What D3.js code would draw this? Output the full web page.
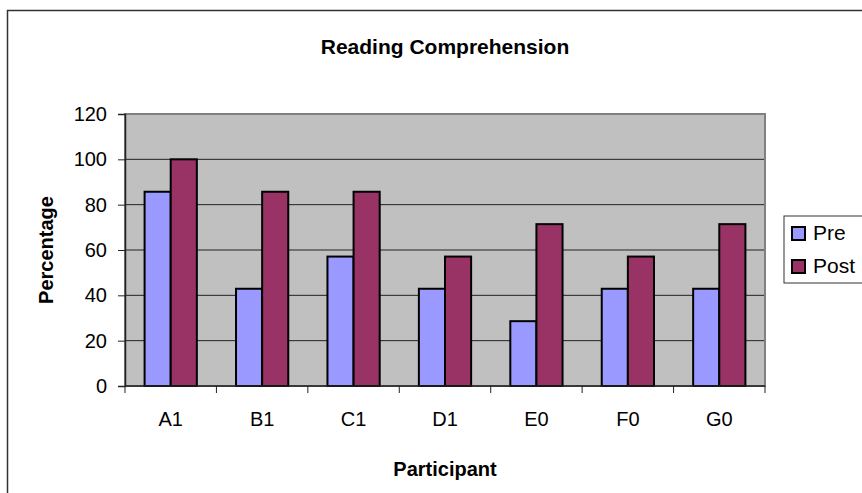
<!DOCTYPE html>
<html>
<head>
<meta charset="utf-8">
<script src="https://cdn.jsdelivr.net/npm/d3@7"></script>
<style>
  body { margin: 0; background: #fff; }
  svg { display: block; font-family: "Liberation Sans", Arial, sans-serif; }
</style>
</head>
<body>
<svg id="chart" width="862" height="493"></svg>
<script>
// Values
const participants = ["A1", "B1", "C1", "D1", "E0", "F0", "G0"];
const preScores = [85.7, 42.9, 57.1, 42.9, 28.6, 42.9, 42.9];
const postScores = [100, 85.7, 85.7, 57.1, 71.4, 57.1, 71.4];
const seriesNames = ["Pre", "Post"];
const yTicks = [0, 20, 40, 60, 80, 100, 120];

const colors = { Pre: "#9999ff", Post: "#993366" };

// Build rows for the grouped bars
const rows = participants.map((p, i) => ({ name: p, Pre: preScores[i], Post: postScores[i] }));

const config = {
  margin: { top: 114, left: 125, right: 97, bottom: 107 },
  containerWidth: 862,
  containerHeight: 493
};

const svg = d3.select("#chart");
const width = config.containerWidth - config.margin.left - config.margin.right;
const height = config.containerHeight - config.margin.top - config.margin.bottom;

// Outer chart area border (right and bottom edges fall off the picture)
svg.append("rect")
    .attr("x", 7.5)
    .attr("y", 10.5)
    .attr("width", 900)
    .attr("height", 600)
    .attr("fill", "#fff")
    .attr("stroke", "#333")
    .attr("stroke-width", 1.5);

const chart = svg.append("g")
    .attr("transform", `translate(${config.margin.left},${config.margin.top})`);

// Scales
const xScale = d3.scaleBand()
    .domain(participants)
    .range([0, width]);

// Excel style gap width of 150%
const barW = xScale.bandwidth() / 3.5;
const xInner = d3.scaleBand()
    .domain(seriesNames)
    .range([barW * 0.75, barW * 2.75]);

const yScale = d3.scaleLinear()
    .domain([0, 120])
    .range([height, 0]);

// Plot area background
chart.append("rect")
    .attr("width", width)
    .attr("height", height)
    .attr("fill", "#c0c0c0");

// Gridlines
chart.append("g")
    .selectAll("line")
    .data(yTicks.filter(d => d > 0 && d < 120))
  .join("line")
    .attr("x1", 0)
    .attr("x2", width)
    .attr("y1", d => yScale(d))
    .attr("y2", d => yScale(d))
    .attr("stroke", "#222")
    .attr("stroke-width", 1);

// Plot area border
chart.append("rect")
    .attr("width", width)
    .attr("height", height)
    .attr("fill", "none")
    .attr("stroke", "#808080")
    .attr("stroke-width", 2);

// Bars
chart.append("g")
    .selectAll("g")
    .data(rows)
  .join("g")
    .attr("transform", d => `translate(${xScale(d.name)},0)`)
    .selectAll("rect")
    .data(d => seriesNames.map(s => ({ key: s, value: d[s] })))
  .join("rect")
    .attr("x", d => xInner(d.key))
    .attr("y", d => yScale(d.value))
    .attr("width", xInner.bandwidth())
    .attr("height", d => height - yScale(d.value))
    .attr("fill", d => colors[d.key])
    .attr("stroke", "#000")
    .attr("stroke-width", 2);

// Y axis
const yAxisG = chart.append("g")
    .call(d3.axisLeft(yScale).tickValues(yTicks).tickSize(7).tickPadding(11));
yAxisG.select(".domain").attr("stroke", "#222").attr("stroke-width", 1.5);
yAxisG.selectAll(".tick line").attr("stroke", "#222");
yAxisG.selectAll("text")
    .attr("font-size", 20)
    .attr("fill", "#000")
    .attr("font-family", "Liberation Sans, Arial, sans-serif");

// X axis: ticks between categories
const xAxisG = chart.append("g")
    .attr("transform", `translate(0,${height})`);
xAxisG.append("line")
    .attr("x1", 0)
    .attr("x2", width)
    .attr("stroke", "#222")
    .attr("stroke-width", 1.5);
xAxisG.selectAll(".sep")
    .data(participants.concat(["end"]))
  .join("line")
    .attr("class", "sep")
    .attr("x1", (d, i) => i * xScale.step())
    .attr("x2", (d, i) => i * xScale.step())
    .attr("y1", 0)
    .attr("y2", 7)
    .attr("stroke", "#222");
xAxisG.selectAll(".lbl")
    .data(participants)
  .join("text")
    .attr("class", "lbl")
    .attr("x", d => xScale(d) + xScale.bandwidth() / 2)
    .attr("y", 40)
    .attr("text-anchor", "middle")
    .attr("font-size", 20)
    .text(d => d);

// Titles
svg.append("text")
    .attr("x", config.margin.left + width / 2)
    .attr("y", 54)
    .attr("text-anchor", "middle")
    .attr("font-size", 21)
    .attr("font-weight", "bold")
    .text("Reading Comprehension");

svg.append("text")
    .attr("x", config.margin.left + width / 2)
    .attr("y", 476)
    .attr("text-anchor", "middle")
    .attr("font-size", 20)
    .attr("font-weight", "bold")
    .text("Participant");

svg.append("text")
    .attr("transform", `translate(53,${config.margin.top + height / 2}) rotate(-90)`)
    .attr("text-anchor", "middle")
    .attr("font-size", 20)
    .attr("font-weight", "bold")
    .text("Percentage");

// Legend
const legend = svg.append("g").attr("transform", "translate(784,216)");
legend.append("rect")
    .attr("width", 100)
    .attr("height", 67)
    .attr("fill", "#fff")
    .attr("stroke", "#333")
    .attr("stroke-width", 1);
legend.selectAll(".item")
    .data(seriesNames)
  .join("g")
    .attr("class", "item")
    .attr("transform", (d, i) => `translate(8,${11 + i * 33})`)
    .call(g => {
      g.append("rect")
          .attr("width", 13)
          .attr("height", 13)
          .attr("fill", d => colors[d])
          .attr("stroke", "#000")
          .attr("stroke-width", 2);
      g.append("text")
          .attr("x", 21)
          .attr("y", 13)
          .attr("font-size", 21)
          .text(d => d);
    });
</script>
</body>
</html>
